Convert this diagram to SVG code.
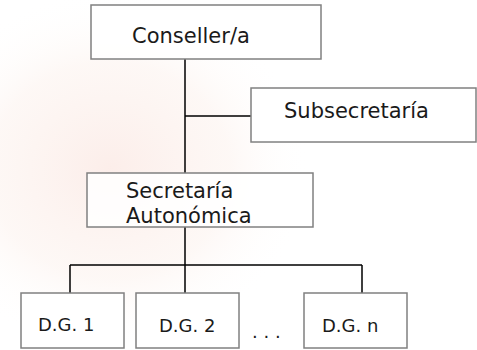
<svg xmlns="http://www.w3.org/2000/svg" width="477" height="350" viewBox="0 0 477 350">
<defs>
<radialGradient id="wm" cx="0.5" cy="0.5" r="0.5">
<stop offset="0" stop-color="#fbe9e4" stop-opacity="0.8"/>
<stop offset="0.6" stop-color="#fcf1ec" stop-opacity="0.5"/>
<stop offset="1" stop-color="#ffffff" stop-opacity="0"/>
</radialGradient>
<style>
.box{fill:#ffffff;fill-opacity:0.85;stroke:#808080;stroke-width:1.5}
.ln{stroke:#000000;stroke-width:1.5;fill:none}
.t{font-family:"DejaVu Sans",sans-serif;fill:#1a1a1a}
.big{font-size:21px}
.sm{font-size:18px}
</style>
</defs>
<rect width="477" height="350" fill="#ffffff"/>
<ellipse cx="110" cy="170" rx="200" ry="180" fill="url(#wm)"/>
<g id="connectors">
<path class="ln" d="M185 59V173M185 116H251M185 227V293M70 265H362M70 265V293M362 265V293"/>
</g>
<g id="conseller">
<rect class="box" x="91" y="5" width="230" height="54"/>
<text class="t big" x="132" y="43">Conseller/a</text>
</g>
<g id="subsecretaria">
<rect class="box" x="251" y="88" width="225" height="54"/>
<text class="t big" x="284" y="118">Subsecretaría</text>
</g>
<g id="secretaria">
<rect class="box" x="87" y="173" width="226" height="54"/>
<text class="t big" x="126" y="198">Secretaría</text>
<text class="t big" x="126" y="223">Autonómica</text>
</g>
<g id="dg1">
<rect class="box" x="21" y="293" width="103" height="55"/>
<text class="t sm" x="38" y="331">D.G. 1</text>
</g>
<g id="dg2">
<rect class="box" x="136" y="293" width="103" height="55"/>
<text class="t sm" x="159" y="332">D.G. 2</text>
</g>
<g id="dots">
<text class="t sm" x="252" y="338">. . .</text>
</g>
<g id="dgn">
<rect class="box" x="304" y="293" width="103" height="55"/>
<text class="t sm" x="322" y="332">D.G. n</text>
</g>
</svg>
